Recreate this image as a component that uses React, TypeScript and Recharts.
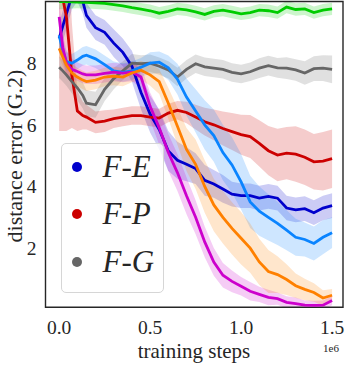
import { ComposedChart, Area, Line, XAxis, YAxis, ReferenceArea, Label } from 'recharts'

// training steps (x 1e6)
const steps = [0, 0.02, 0.04, 0.07, 0.1, 0.13, 0.15, 0.2, 0.25, 0.3, 0.35, 0.4, 0.45, 0.5, 0.55, 0.6, 0.65, 0.7, 0.75, 0.8, 0.85, 0.9, 0.95, 1.0, 1.05, 1.1, 1.15, 1.2, 1.25, 1.3, 1.35, 1.4, 1.45, 1.5]

const fe = [8.8, 9.2, 9.6, 10.2, 10.4, 10.0, 9.55, 9.15, 9.0, 8.65, 8.35, 7.9, 7.05, 6.35, 5.85, 5.15, 4.85, 4.72, 4.58, 4.2, 4.08, 3.92, 3.75, 3.7, 3.7, 3.62, 3.68, 3.62, 3.3, 3.24, 3.28, 3.15, 3.3, 3.38]
const feSd = [0.5, 0.5, 0.5, 0.45, 0.4, 0.4, 0.4, 0.4, 0.4, 0.45, 0.45, 0.5, 0.55, 0.6, 0.65, 0.65, 0.6, 0.55, 0.5, 0.5, 0.45, 0.45, 0.4, 0.4, 0.4, 0.4, 0.4, 0.4, 0.4, 0.4, 0.4, 0.4, 0.4, 0.4]

const fp = [10.3, 10.1, 9.5, 7.6, 6.45, 6.3, 6.25, 6.08, 6.12, 6.2, 6.25, 6.3, 6.3, 6.25, 6.22, 6.38, 6.47, 6.4, 6.25, 6.1, 6.0, 5.88, 5.78, 5.68, 5.62, 5.4, 5.16, 5.02, 5.08, 5.05, 4.95, 4.8, 4.82, 4.9]
const fpSd = [4.5, 4.3, 3.7, 1.7, 0.65, 0.45, 0.4, 0.35, 0.35, 0.3, 0.3, 0.3, 0.3, 0.3, 0.3, 0.3, 0.3, 0.35, 0.4, 0.45, 0.5, 0.55, 0.6, 0.65, 0.7, 0.75, 0.8, 0.85, 0.85, 0.9, 0.9, 0.9, 0.95, 0.95]

const fg = [7.87, 7.75, 7.62, 7.4, 7.2, 6.95, 6.7, 6.65, 7.15, 7.5, 7.75, 8.0, 7.98, 8.0, 7.9, 7.78, 7.55, 7.8, 7.98, 7.88, 7.84, 7.8, 7.7, 7.65, 7.72, 7.84, 7.92, 7.85, 7.84, 7.78, 7.68, 7.82, 7.84, 7.8]
const fgSd = [0.35, 0.35, 0.35, 0.38, 0.4, 0.42, 0.42, 0.42, 0.38, 0.35, 0.3, 0.3, 0.28, 0.28, 0.28, 0.28, 0.3, 0.3, 0.3, 0.3, 0.3, 0.3, 0.3, 0.3, 0.3, 0.32, 0.32, 0.32, 0.35, 0.35, 0.38, 0.4, 0.42, 0.45]

const green = [10.0, 10.0, 10.0, 9.99, 9.98, 9.97, 9.97, 9.96, 9.94, 9.9, 9.86, 9.8, 9.75, 9.7, 9.62, 9.68, 9.76, 9.73, 9.66, 9.58, 9.68, 9.72, 9.66, 9.6, 9.64, 9.72, 9.7, 9.64, 9.82, 9.74, 9.76, 9.64, 9.72, 9.76]
const greenSd = [0.25, 0.25, 0.25, 0.22, 0.2, 0.2, 0.2, 0.2, 0.2, 0.2, 0.2, 0.2, 0.2, 0.2, 0.2, 0.2, 0.2, 0.2, 0.2, 0.2, 0.2, 0.2, 0.2, 0.2, 0.2, 0.2, 0.2, 0.2, 0.2, 0.2, 0.2, 0.2, 0.2, 0.2]

const sky = [8.9, 8.4, 8.05, 8.0, 8.1, 8.22, 8.26, 8.14, 7.95, 7.75, 7.7, 7.75, 7.87, 8.0, 8.03, 7.85, 7.48, 6.9, 6.45, 6.0, 5.65, 5.1, 4.7, 4.15, 3.5, 3.2, 3.0, 2.8, 2.58, 2.35, 2.28, 2.15, 2.35, 2.5]
const skySd = [0.4, 0.35, 0.3, 0.3, 0.3, 0.3, 0.3, 0.3, 0.3, 0.3, 0.3, 0.3, 0.3, 0.35, 0.35, 0.4, 0.5, 0.6, 0.7, 0.8, 0.85, 0.9, 0.9, 0.9, 0.85, 0.8, 0.75, 0.7, 0.65, 0.6, 0.55, 0.55, 0.55, 0.5]

const magenta = [9.5, 8.5, 8.0, 7.8, 7.73, 7.65, 7.62, 7.62, 7.67, 7.71, 7.68, 7.71, 7.55, 6.6, 5.9, 5.1, 4.45, 3.7, 3.0, 2.2, 1.55, 1.12, 0.92, 0.76, 0.6, 0.5, 0.4, 0.36, 0.24, 0.2, 0.15, 0.14, 0.15, 0.3]
const magentaSd = [0.5, 0.45, 0.4, 0.35, 0.3, 0.3, 0.3, 0.3, 0.3, 0.3, 0.3, 0.3, 0.35, 0.45, 0.55, 0.6, 0.6, 0.6, 0.55, 0.5, 0.45, 0.4, 0.35, 0.3, 0.3, 0.25, 0.25, 0.2, 0.2, 0.2, 0.15, 0.15, 0.15, 0.15]

const orange = [8.48, 8.2, 7.94, 7.68, 7.55, 7.45, 7.4, 7.45, 7.55, 7.58, 7.55, 7.68, 7.77, 7.62, 7.4, 6.7, 5.95, 5.2, 4.72, 4.0, 3.4, 3.0, 2.64, 2.32, 2.0, 1.55, 1.24, 1.14, 0.98, 0.78, 0.66, 0.56, 0.38, 0.47]
const orangeSd = [0.3, 0.3, 0.3, 0.3, 0.3, 0.3, 0.3, 0.3, 0.3, 0.3, 0.3, 0.3, 0.3, 0.35, 0.4, 0.5, 0.6, 0.7, 0.8, 0.85, 0.85, 0.85, 0.85, 0.85, 0.8, 0.75, 0.7, 0.6, 0.5, 0.4, 0.35, 0.3, 0.25, 0.2]

const xTicks = [0, 0.5, 1.0, 1.5]
const yTicks = [2, 4, 6, 8]

const legendItems = [
  { label: 'F-E', color: '#0000cc' },
  { label: 'F-P', color: '#cc0000' },
  { label: 'F-G', color: '#666666' },
]

const series = [
  { key: 'fe', mean: fe, sd: feSd, color: '#0000cc' },
  { key: 'fp', mean: fp, sd: fpSd, color: '#cc0000' },
  { key: 'fg', mean: fg, sd: fgSd, color: '#666666' },
  { key: 'green', mean: green, sd: greenSd, color: '#00cc00' },
  { key: 'sky', mean: sky, sd: skySd, color: '#0a84ff' },
  { key: 'magenta', mean: magenta, sd: magentaSd, color: '#cc00cc' },
  { key: 'orange', mean: orange, sd: orangeSd, color: '#ff8000' },
]

const data = steps.map((t, i) => {
  const row: Record<string, number | number[]> = { t }
  series.forEach(s => {
    row[s.key] = s.mean[i]
    row[s.key + 'Band'] = [s.mean[i] - s.sd[i], s.mean[i] + s.sd[i]]
  })
  return row
})

const FONT = "'Liberation Serif', serif"
const X_MIN = -0.075
const X_MAX = 1.56
const Y_MIN = 0.08
const Y_MAX = 10

export default function App() {
  return (
    <div style={{ position: 'absolute', left: 0, top: 0, width: 345, height: 365, background: '#fff' }}>
      <ComposedChart width={345} height={365} data={data} margin={{ top: 1.5, right: 2, bottom: 0, left: 0 }}>
        <XAxis
          type="number"
          dataKey="t"
          domain={[X_MIN, X_MAX]}
          ticks={xTicks}
          allowDataOverflow
          tickFormatter={(v: number) => v.toFixed(1)}
          axisLine={false}
          tickLine={false}
          tickSize={0}
          tickMargin={13}
          height={57.7}
          tick={{ fontSize: 19.5, fill: '#262626', fontFamily: FONT }}
          label={
            <Label
              content={() => (
                <g fontFamily={FONT} fill="#262626">
                  <text x={194} y={358} textAnchor="middle" fontSize={21}>training steps</text>
                  <text x={331} y={352} textAnchor="middle" fontSize={11}>1e6</text>
                </g>
              )}
            />
          }
        />
        <YAxis
          type="number"
          domain={[Y_MIN, Y_MAX]}
          ticks={yTicks}
          allowDataOverflow
          axisLine={false}
          tickLine={false}
          tickSize={0}
          tickMargin={9}
          width={45.5}
          tick={{ fontSize: 19.5, fill: '#262626', fontFamily: FONT }}
          label={
            <Label
              content={() => (
                <text
                  x={14}
                  y={156}
                  transform="rotate(-90 14 156)"
                  textAnchor="middle"
                  dominantBaseline="central"
                  fontFamily={FONT}
                  fontSize={22}
                  fill="#262626"
                >
                  distance error (G.2)
                </text>
              )}
            />
          }
        />
        {series.map(s => [
          <Area
            key={s.key + 'Band'}
            type="linear"
            dataKey={s.key + 'Band'}
            stroke="none"
            fill={s.color}
            fillOpacity={0.2}
            isAnimationActive={false}
            activeDot={false}
          />,
          <Line
            key={s.key}
            type="linear"
            dataKey={s.key}
            stroke={s.color}
            strokeWidth={2.8}
            dot={false}
            activeDot={false}
            isAnimationActive={false}
          />,
        ])}
        <ReferenceArea
          x1={X_MIN}
          x2={X_MAX}
          y1={Y_MIN}
          y2={Y_MAX}
          fill="none"
          stroke="#262626"
          strokeWidth={1.4}
        />
      </ComposedChart>

      <div
        style={{
          position: 'absolute', left: 61, top: 143, width: 103, height: 150,
          boxSizing: 'border-box', border: '1px solid #d6d6d6', borderRadius: 5,
          background: 'rgba(255,255,255,0.8)',
        }}
      >
        {legendItems.map((item, i) => (
          <div key={item.label} style={{ position: 'absolute', left: 0, top: 5 + i * 47.3, height: 36, display: 'flex', alignItems: 'center' }}>
            <span style={{ display: 'inline-block', width: 10, height: 10, borderRadius: '50%', background: item.color, marginLeft: 9.5 }} />
            <span style={{ marginLeft: 21, fontFamily: FONT, fontStyle: 'italic', fontSize: 31, color: '#262626', lineHeight: '36px' }}>
              {item.label}
            </span>
          </div>
        ))}
      </div>
    </div>
  )
}
